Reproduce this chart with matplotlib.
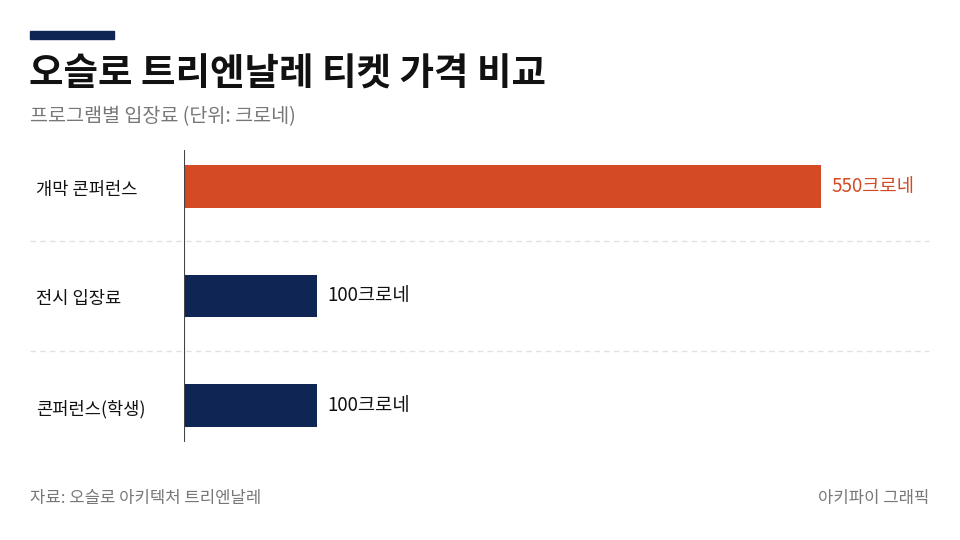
import matplotlib
matplotlib.use("Agg")
import matplotlib.pyplot as plt
from matplotlib.transforms import blended_transform_factory
from matplotlib.patches import Rectangle

plt.rcParams['font.family'] = ['Noto Sans CJK KR', 'DejaVu Sans']

title = "오슬로 트리엔날레 티켓 가격 비교"
subtitle = "프로그램별 입장료 (단위: 크로네)"
source = "자료: 오슬로 아키텍처 트리엔날레"
credit = "아키파이 그래픽"

programs = ["개막 콘퍼런스", "전시 입장료", "콘퍼런스(학생)"]
prices = [550, 100, 100]
unit = "크로네"

ORANGE = "#d34a24"
NAVY = "#0f2654"
GRAY = "#777777"

W, H = 960, 540
fig = plt.figure(figsize=(9.6, 5.4), dpi=100, facecolor="white")

# axes: plot area from the vertical axis line (x=184px) to the right end of the grid
ax = fig.add_axes([184 / W, 1 - 442 / H, (930 - 184) / W, (442 - 150) / H])
bar_start = -18.5
ax.set_xlim(bar_start, bar_start + (930 - 184) / 1.12)
ax.set_ylim(len(programs) - 1 + 0.33, -0.33)
ax.axis("off")

colors = [ORANGE if i == 0 else NAVY for i in range(len(programs))]
ypos = list(range(len(programs)))
ax.barh(ypos, [p - bar_start for p in prices], left=bar_start, height=0.39,
        color=colors, zorder=3)

# vertical axis line
ax.axvline(bar_start, color="#444444", lw=1.5, zorder=4)

# dashed separators spanning the full width
tr = blended_transform_factory(fig.transFigure, ax.transData)
for i in range(len(programs) - 1):
    ax.plot([30 / W, 929 / W], [i + 0.5, i + 0.5], transform=tr, color="#e2e2e2",
            lw=1, ls=(0, (4, 3)), clip_on=False, zorder=1)

for i, (name, val, c) in enumerate(zip(programs, prices, colors)):
    ax.text(36 / W, i + 0.03, name, transform=tr, ha="left", va="center",
            fontsize=12.7, color="#111111")
    ax.annotate(f"{val}{unit}", xy=(val, i), xytext=(8, 0), textcoords="offset points",
                ha="left", va="center", fontsize=13.5,
                color=ORANGE if c == ORANGE else "#111111")

# header
fig.add_artist(Rectangle((30 / W, 1 - 38.5 / H), 84 / W, 7.5 / H,
                         transform=fig.transFigure, color=NAVY))
fig.text(29 / W, 1 - 74 / H, title, fontsize=27, fontweight="bold",
         color="#111111", ha="left", va="center")
fig.text(30 / W, 1 - 117 / H, subtitle, fontsize=14.1, color=GRAY,
         ha="left", va="center")

# footer
fig.text(30 / W, 1 - 499 / H, source, fontsize=12, color=GRAY, ha="left", va="center")
fig.text(929 / W, 1 - 499 / H, credit, fontsize=12, color=GRAY, ha="right", va="center")

fig.savefig("out.png", dpi=100, facecolor="white")
